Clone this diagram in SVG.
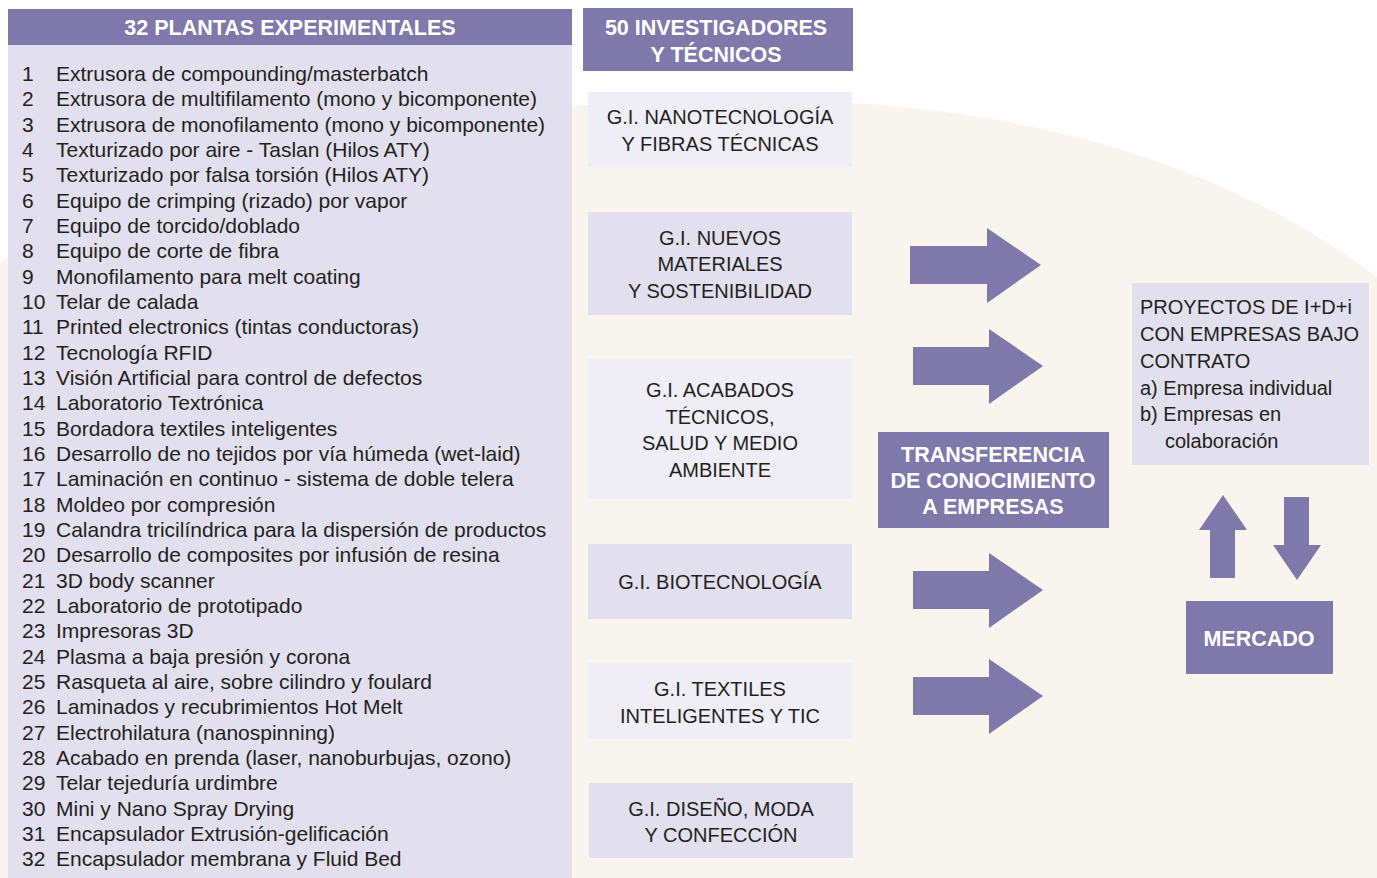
<svg xmlns="http://www.w3.org/2000/svg" width="1377" height="878" viewBox="0 0 1377 878">
<style>
.hd{fill:#7f79ab}
.lav{fill:#e2e0ee}
.lt{fill:#efeef7}
.arr{fill:#7f79ab}
.wb{font-family:"Liberation Sans",Arial,sans-serif;font-weight:bold;font-size:21.5px;fill:#ffffff;text-anchor:middle}
.t{font-family:"Liberation Sans",Arial,sans-serif;font-size:20px;fill:#231f20}
.li{font-family:"Liberation Sans",Arial,sans-serif;font-size:21px;fill:#231f20}
.tc{font-family:"Liberation Sans",Arial,sans-serif;font-size:20px;fill:#231f20;text-anchor:middle}
</style>
<rect width="1377" height="878" fill="#ffffff"/>
<path d="M0,263 C200,120 500,100 780,101 C1050,102 1250,180 1377,277 L1377,878 L0,878 Z" fill="#f7f5ee"/>

<g id="plantas">
<rect class="lav" x="8" y="45" width="564" height="833"/>
<rect class="hd" x="8" y="9" width="564" height="36"/>
<text class="wb" x="290" y="35">32 PLANTAS EXPERIMENTALES</text>
<g class="li">
<text x="22" y="81">1</text><text x="56" y="81">Extrusora de compounding/masterbatch</text>
<text x="22" y="106">2</text><text x="56" y="106">Extrusora de multifilamento (mono y bicomponente)</text>
<text x="22" y="132">3</text><text x="56" y="132">Extrusora de monofilamento (mono y bicomponente)</text>
<text x="22" y="157">4</text><text x="56" y="157">Texturizado por aire - Taslan (Hilos ATY)</text>
<text x="22" y="182">5</text><text x="56" y="182">Texturizado por falsa torsión (Hilos ATY)</text>
<text x="22" y="208">6</text><text x="56" y="208">Equipo de crimping (rizado) por vapor</text>
<text x="22" y="233">7</text><text x="56" y="233">Equipo de torcido/doblado</text>
<text x="22" y="258">8</text><text x="56" y="258">Equipo de corte de fibra</text>
<text x="22" y="284">9</text><text x="56" y="284">Monofilamento para melt coating</text>
<text x="22" y="309">10</text><text x="56" y="309">Telar de calada</text>
<text x="22" y="334">11</text><text x="56" y="334">Printed electronics (tintas conductoras)</text>
<text x="22" y="360">12</text><text x="56" y="360">Tecnología RFID</text>
<text x="22" y="385">13</text><text x="56" y="385">Visión Artificial para control de defectos</text>
<text x="22" y="410">14</text><text x="56" y="410">Laboratorio Textrónica</text>
<text x="22" y="436">15</text><text x="56" y="436">Bordadora textiles inteligentes</text>
<text x="22" y="461">16</text><text x="56" y="461">Desarrollo de no tejidos por vía húmeda (wet-laid)</text>
<text x="22" y="486">17</text><text x="56" y="486">Laminación en continuo - sistema de doble telera</text>
<text x="22" y="512">18</text><text x="56" y="512">Moldeo por compresión</text>
<text x="22" y="537">19</text><text x="56" y="537">Calandra tricilíndrica para la dispersión de productos</text>
<text x="22" y="562">20</text><text x="56" y="562">Desarrollo de composites por infusión de resina</text>
<text x="22" y="588">21</text><text x="56" y="588">3D body scanner</text>
<text x="22" y="613">22</text><text x="56" y="613">Laboratorio de prototipado</text>
<text x="22" y="638">23</text><text x="56" y="638">Impresoras 3D</text>
<text x="22" y="664">24</text><text x="56" y="664">Plasma a baja presión y corona</text>
<text x="22" y="689">25</text><text x="56" y="689">Rasqueta al aire, sobre cilindro y foulard</text>
<text x="22" y="714">26</text><text x="56" y="714">Laminados y recubrimientos Hot Melt</text>
<text x="22" y="740">27</text><text x="56" y="740">Electrohilatura (nanospinning)</text>
<text x="22" y="765">28</text><text x="56" y="765">Acabado en prenda (laser, nanoburbujas, ozono)</text>
<text x="22" y="790">29</text><text x="56" y="790">Telar tejeduría urdimbre</text>
<text x="22" y="816">30</text><text x="56" y="816">Mini y Nano Spray Drying</text>
<text x="22" y="841">31</text><text x="56" y="841">Encapsulador Extrusión-gelificación</text>
<text x="22" y="866">32</text><text x="56" y="866">Encapsulador membrana y Fluid Bed</text>
</g>
</g>

<g id="investigadores">
<rect class="hd" x="583" y="8" width="270" height="63"/>
<text class="wb" x="716" y="35">50 INVESTIGADORES</text>
<text class="wb" x="716" y="62">Y TÉCNICOS</text>
</g>

<g id="gi-nano">
<rect class="lt" x="588" y="92" width="264" height="75"/>
<text class="tc" x="720" y="124">G.I. NANOTECNOLOGÍA</text>
<text class="tc" x="720" y="151">Y FIBRAS TÉCNICAS</text>
</g>
<g id="gi-nuevos">
<rect class="lav" x="588" y="212" width="264" height="103"/>
<text class="tc" x="720" y="245">G.I. NUEVOS</text>
<text class="tc" x="720" y="271">MATERIALES</text>
<text class="tc" x="720" y="298">Y SOSTENIBILIDAD</text>
</g>
<g id="gi-acabados">
<rect class="lt" x="588" y="359" width="264" height="140"/>
<text class="tc" x="720" y="397">G.I. ACABADOS</text>
<text class="tc" x="720" y="424">TÉCNICOS,</text>
<text class="tc" x="720" y="450">SALUD Y MEDIO</text>
<text class="tc" x="720" y="477">AMBIENTE</text>
</g>
<g id="gi-bio">
<rect class="lav" x="588" y="544" width="264" height="75"/>
<text class="tc" x="720" y="589">G.I. BIOTECNOLOGÍA</text>
</g>
<g id="gi-textiles">
<rect class="lt" x="588" y="663" width="264" height="76"/>
<text class="tc" x="720" y="696">G.I. TEXTILES</text>
<text class="tc" x="720" y="723">INTELIGENTES Y TIC</text>
</g>
<g id="gi-diseno">
<rect class="lav" x="589" y="783" width="264" height="75"/>
<text class="tc" x="721" y="816">G.I. DISEÑO, MODA</text>
<text class="tc" x="721" y="842">Y CONFECCIÓN</text>
</g>

<g id="transferencia">
<rect class="hd" x="878" y="432" width="231" height="96"/>
<text class="wb" x="993" y="462">TRANSFERENCIA</text>
<text class="wb" x="993" y="488">DE CONOCIMIENTO</text>
<text class="wb" x="993" y="514">A EMPRESAS</text>
</g>

<g id="proyectos">
<rect class="lav" x="1132" y="283" width="237" height="182"/>
<text class="t" x="1140" y="314">PROYECTOS DE I+D+i</text>
<text class="t" x="1140" y="341">CON EMPRESAS BAJO</text>
<text class="t" x="1140" y="368">CONTRATO</text>
<text class="t" x="1140" y="395">a) Empresa individual</text>
<text class="t" x="1140" y="421">b) Empresas en</text>
<text class="t" x="1165" y="448">colaboración</text>
</g>

<g id="mercado">
<rect class="hd" x="1186" y="601" width="147" height="73"/>
<text class="wb" x="1259" y="646">MERCADO</text>
</g>

<g id="connectors">
<polygon class="arr" points="910,246 987,246 987,228 1041,265 987,303 987,284 910,284"/>
<polygon class="arr" points="913,347 989,347 989,329 1043,366 989,404 989,385 913,385"/>
<polygon class="arr" points="913,571 989,571 989,553 1043,590 989,628 989,609 913,609"/>
<polygon class="arr" points="913,677 989,677 989,659 1043,696 989,734 989,715 913,715"/>
<polygon class="arr" points="1210,578 1210,530 1199,530 1223,495 1247,530 1235,530 1235,578"/>
<polygon class="arr" points="1284,497 1309,497 1309,545 1321,545 1297,580 1273,545 1284,545"/>
</g>
</svg>
